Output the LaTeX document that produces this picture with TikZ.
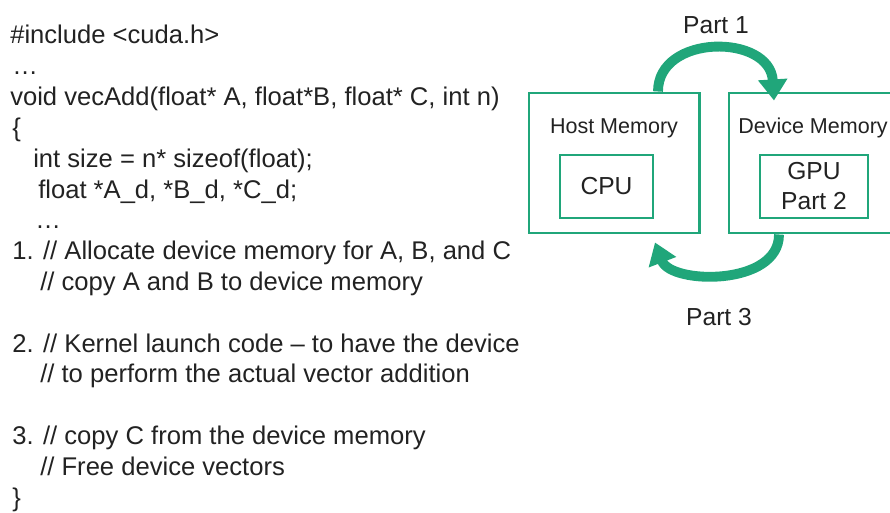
\documentclass[tikz,border=0pt]{standalone}
\usepackage{fontspec}
\setmainfont{Liberation Sans}
\usetikzlibrary{arrows.meta,calc}

\definecolor{memgreen}{RGB}{32,166,122}
\definecolor{codegray}{RGB}{34,34,34}

\tikzset{
  codeline/.style={anchor=base west, inner sep=0pt, text=codegray,
    font=\fontsize{18.2}{21}\selectfont},
  lbl/.style={inner sep=0pt, text=codegray, font=\fontsize{17.5}{21}\selectfont},
  smalllbl/.style={inner sep=0pt, text=codegray, font=\fontsize{15.3}{18}\selectfont},
  membox/.style={draw=memgreen, line width=2.1pt, inner sep=0pt,
    minimum width=4.25cm, minimum height=3.5cm},
  corebox/.style={draw=memgreen, line width=1.8pt, inner sep=0pt,
    minimum height=1.575cm, text=codegray, font=\fontsize{17.5}{21.3}\selectfont},
  flow/.style={draw=memgreen, line width=7pt,
    -{Triangle[width=20pt,length=15pt]}}
}

\begin{document}
\begin{tikzpicture}[x=0.025cm,y=0.025cm]
  \useasboundingbox (0,0) rectangle (890,-513);

  % code listing
  \node[codeline] (l0)  at (10,-44)    {\#include <cuda.h>};
  \node[codeline] (l1)  at (12,-74.8)  {…};
  \node[codeline] (l2)  at (10,-105.6) {void vecAdd(float* A, float*B, float* C, int n)};
  \node[codeline] (l3)  at (12,-136.4) {\{};
  \node[codeline] (l4)  at (33,-167.2) {int size = n* sizeof(float);};
  \node[codeline] (l5)  at (38,-198)   {float *A\_d, *B\_d, *C\_d;};
  \node[codeline] (l6)  at (35,-228.8) {…};
  \node[codeline] (l7)  at (12,-259.6) {1. // Allocate device memory for A, B, and C};
  \node[codeline] (l8)  at (40,-290.4) {// copy A and B to device memory};
  \node[codeline] (l10) at (12,-352)   {2. // Kernel launch code -- to have the device};
  \node[codeline] (l11) at (40,-382.8) {// to perform the actual vector addition};
  \node[codeline] (l13) at (12,-444.4) {3. // copy C from the device memory};
  \node[codeline] (l14) at (40,-475.2) {// Free device vectors};
  \node[codeline] (l15) at (12,-506)   {\}};

  % memories
  \node[membox] (host) at (614,-163) {};
  \node[membox] (dev)  at (814,-163) {};
  \node[smalllbl, anchor=base] (hostlbl) at (614,-133) {Host Memory};
  \node[smalllbl, anchor=base west] (devlbl) at (738,-133) {Device Memory};
  \node[corebox, minimum width=2.325cm] (cpu) at (606.5,-186.5) {CPU};
  \node[corebox, minimum width=2.7cm, align=center] (gpu) at (814,-186.5) {GPU\\Part 2};

  % transfers
  \coordinate (t1) at ($(dev.north)+(-40,-9)$);
  \coordinate (t3) at ($(host.south)+(41,-8)$);
  \draw[flow] ($(host.north)+(44,0)$) .. controls +(0,58) and +(-4,67) .. (t1);
  \draw[flow] ($(dev.south)+(-35,0)$) .. controls +(0,-52) and +(16,-42) .. (t3);
  \node[lbl, anchor=base] (part1) at (716,-33) {Part 1};
  \node[lbl, anchor=base] (part3) at (719,-325) {Part 3};
\end{tikzpicture}
\end{document}
